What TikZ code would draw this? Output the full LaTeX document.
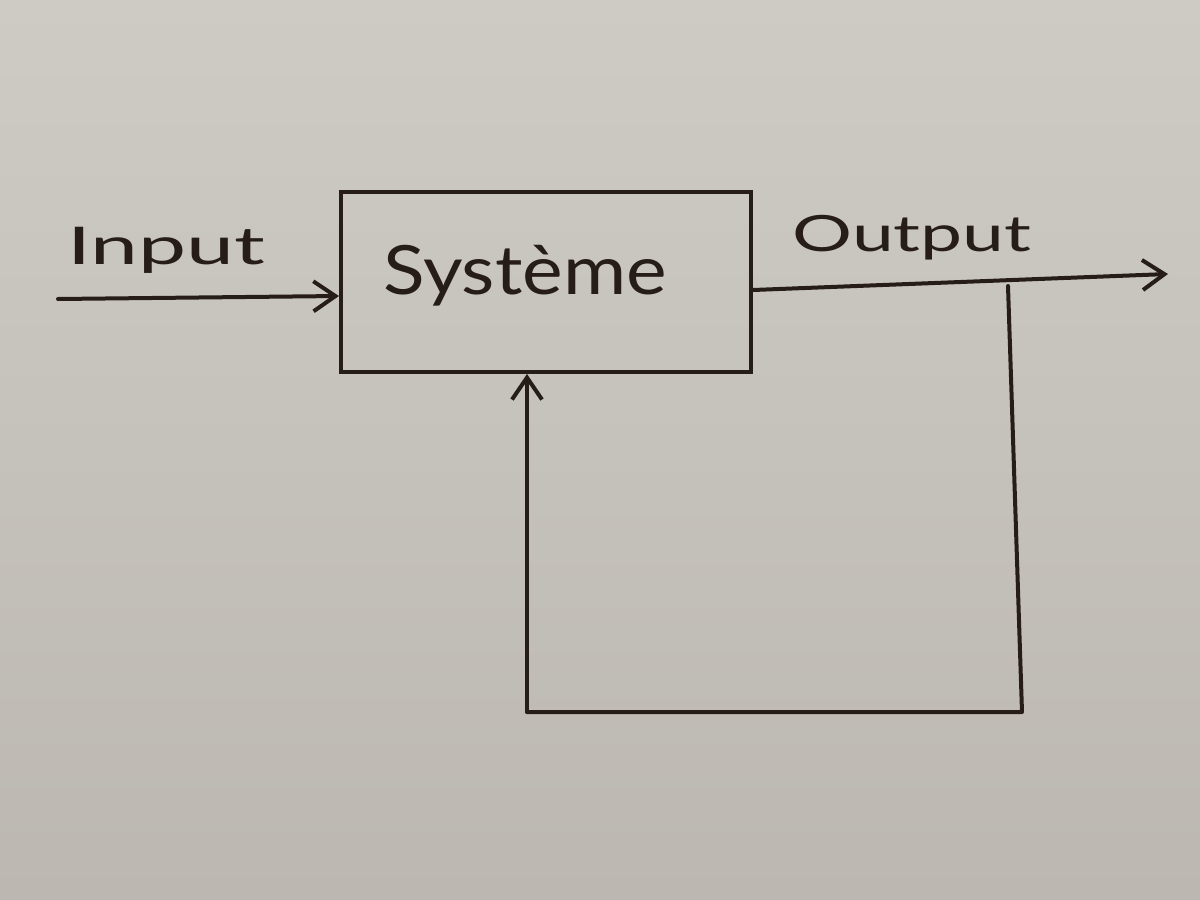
\documentclass[tikz,border=0pt]{standalone}
\usepackage{fontspec}
\usepackage{graphicx}
\setmainfont{Lato}
\usetikzlibrary{arrows.meta}
\definecolor{papertop}{RGB}{206,203,197}
\definecolor{paperbot}{RGB}{188,184,177}
\definecolor{ink}{RGB}{38,28,24}
\tikzset{
  wire/.style={draw=ink, line width=4pt, line cap=round, line join=round},
  arr/.style={wire, -{Straight Barb[length=22pt,width=30pt,line width=4pt]}},
  lbl/.style={text=ink, inner sep=0pt},
  sysbox/.style={draw=ink, line width=4pt, minimum width=410pt, minimum height=180pt, inner sep=0pt}
}
\begin{document}
\begin{tikzpicture}[x=1pt,y=-1pt]
\shade[top color=papertop, bottom color=paperbot] (0,0) rectangle (1200,900);
\useasboundingbox (0,0) rectangle (1200,900);
\node[sysbox] (sys) at (546,282) {};
\node[lbl, font=\fontsize{68}{80}\selectfont] (systxt) at (525,276) {\scalebox{1.13}[1]{Système}};
\node[lbl, font=\fontsize{52}{62}\selectfont] (in) at (166,250) {\scalebox{1.65}[1]{Input}};
\node[lbl, font=\fontsize{50}{60}\selectfont] (out) at (912,238) {\scalebox{1.5}[1]{Output}};
\coordinate (a) at (58,299);
\coordinate (b) at (1168,274);
\coordinate (tap) at (1008,286);
\coordinate (c) at (1022,712);
\coordinate (d) at (527,712);
\draw[arr] (a) -- (sys.west |- 0,296);
\draw[arr] (sys.east |- 0,290) -- (b);
\draw[wire] (tap) -- (c) -- (d);
\draw[arr] (d) -- (sys.south -| d);
\end{tikzpicture}
\end{document}
